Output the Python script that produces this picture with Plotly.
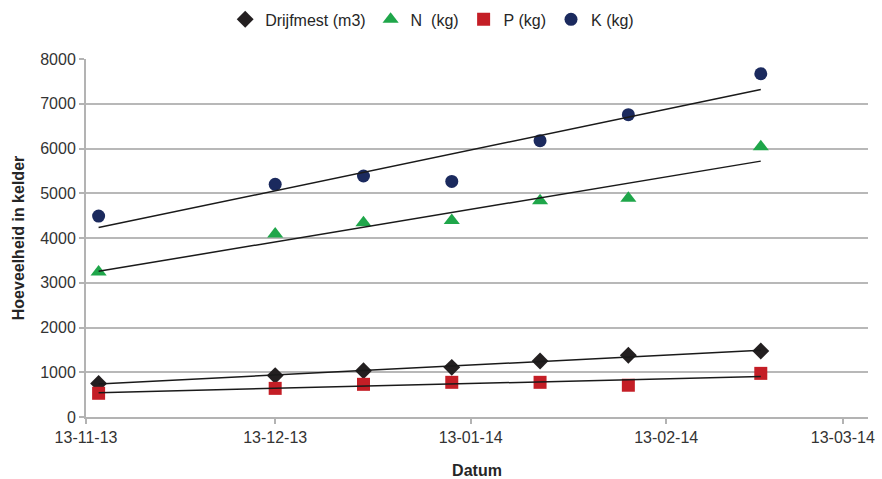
import numpy as np
import pandas as pd
import plotly.graph_objects as go

dates = ["2013-11-15", "2013-12-13", "2013-12-27", "2014-01-10", "2014-01-24", "2014-02-07", "2014-02-28"]
drijfmest = [750, 925, 1035, 1110, 1250, 1380, 1475]
n_kg = [3240, 4090, 4340, 4390, 4830, 4890, 6040]
p_kg = [530, 640, 730, 775, 775, 710, 975]
k_kg = [4490, 5200, 5385, 5265, 6175, 6755, 7670]

tick_dates = ["2013-11-13", "2013-12-13", "2014-01-13", "2014-02-13", "2014-03-13"]
tick_text = ["13-11-13", "13-12-13", "13-01-14", "13-02-14", "13-03-14"]

series = [
    ("Drijfmest (m3)", drijfmest, "diamond", "#231F20", 13),
    ("N  (kg)", n_kg, "triangle-up", "#1FA64A", 14),
    ("P (kg)", p_kg, "square", "#C41E26", 13),
    ("K (kg)", k_kg, "circle", "#1B2A5E", 13),
]

dt = pd.to_datetime(dates)
days = np.array([(d - dt[0]).days for d in dt], dtype=float)

fig = go.Figure()
for name, vals, sym, col, sz in series:
    fig.add_trace(go.Scatter(x=dates, y=vals, mode="markers", name=name,
                             marker=dict(symbol=sym, color=col, size=sz, line=dict(width=0))))
for name, vals, sym, col, sz in series:
    a, b = np.polyfit(days, np.array(vals, dtype=float), 1)
    fig.add_trace(go.Scatter(x=[dates[0], dates[-1]], y=[b, a * days[-1] + b], mode="lines",
                             line=dict(color="#1a1a1a", width=1.5), showlegend=False, hoverinfo="skip"))

font_family = "Liberation Sans, Arial, sans-serif"
fig.update_layout(
    width=882, height=479,
    margin=dict(l=86, r=14, t=59, b=62),
    paper_bgcolor="white", plot_bgcolor="white",
    font=dict(family=font_family, size=15, color="#262626"),
    legend=dict(orientation="h", x=0.49, xanchor="center", xref="container",
                y=0.995, yanchor="top", yref="container",
                font=dict(size=16, color="#262626"),
                itemwidth=30, tracegroupgap=0),
    showlegend=True,
)
fig.update_xaxes(
    type="date", range=["2013-11-13", "2014-03-17"], automargin=False,
    tickvals=tick_dates, ticktext=tick_text,
    showgrid=False, showline=True, linecolor="#B3B3B3", linewidth=2,
    ticks="outside", ticklen=5, tickcolor="#B3B3B3", tickwidth=1.5,
    tickfont=dict(size=16, color="#333333"),
    title=dict(text="<b>Datum</b>", font=dict(size=16, color="#262626"), standoff=22),
)
fig.update_yaxes(
    range=[0, 8000], dtick=1000, tick0=0, automargin=False,
    showgrid=True, gridcolor="#B8B8B8", gridwidth=1.5, zeroline=False,
    showline=True, linecolor="#B3B3B3", linewidth=2,
    ticks="outside", ticklen=5, tickcolor="#B3B3B3", tickwidth=1.5,
    tickfont=dict(size=16, color="#333333"),
    title=dict(text="<b>Hoeveelheid in kelder</b>", font=dict(size=16, color="#262626"), standoff=12),
)
fig.write_html("out.html")
